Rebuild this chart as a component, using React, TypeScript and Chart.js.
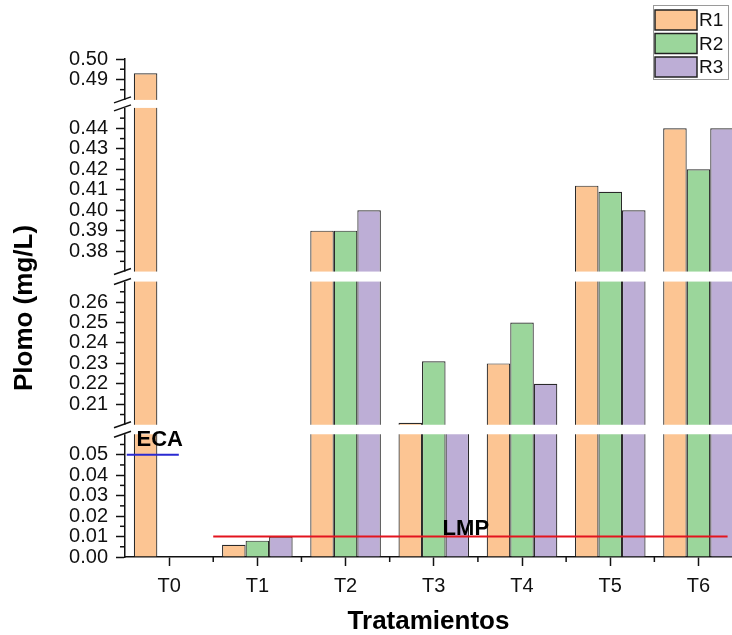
import React, { useEffect, useRef } from 'react';
import { Chart, registerables, LinearScale } from 'chart.js';

// ---------------- data ----------------
const categories = ['T0', 'T1', 'T2', 'T3', 'T4', 'T5', 'T6'];
const seriesLabels = ['R1', 'R2', 'R3'];
const r1Values = [0.493, 0.006, 0.39, 0.201, 0.23, 0.412, 0.44];
const r2Values = [null, 0.008, 0.39, 0.231, 0.25, 0.409, 0.42];
const r3Values = [null, 0.01, 0.4, 0.15, 0.22, 0.4, 0.44];

// broken y axis ranges (bottom to top)
const yBreakSegments = [
  [0.0, 0.06],
  [0.2, 0.27],
  [0.37, 0.45],
  [0.48, 0.5],
];
const yTickValues = [
  0.0, 0.01, 0.02, 0.03, 0.04, 0.05,
  0.21, 0.22, 0.23, 0.24, 0.25, 0.26,
  0.38, 0.39, 0.4, 0.41, 0.42, 0.43, 0.44,
  0.49, 0.5,
];
const yMinorTickValues = [
  0.005, 0.015, 0.025, 0.035, 0.045, 0.055,
  0.205, 0.215, 0.225, 0.235, 0.245, 0.255, 0.265,
  0.375, 0.385, 0.395, 0.405, 0.415, 0.425, 0.435, 0.445,
  0.485, 0.495,
];
const xTickValues = [0, 1, 2, 3, 4, 5, 6];
const xMinorTickValues = [0.5, 1.5, 2.5, 3.5, 4.5, 5.5];

// reference lines
const ecaLineX = [-0.48, 0.11];
const ecaLineY = [0.05, 0.05];
const lmpLineX = [0.5, 6.33];
const lmpLineY = [0.01, 0.01];
const ecaLabel = { text: 'ECA', x: -0.37, y: 0.05 };
const lmpLabel = { text: 'LMP', x: 3.1, y: 0.01 };

// ---------------- style ----------------
const FONT = "'Liberation Sans', Arial, sans-serif";
const AXIS = '#111111';
const BAR_COLORS = ['#FCC593', '#9BD69B', '#BDAED6'];
const BAR_BORDER = '#2a2a2a';
const GAP_PX = [9.5, 10, 8];

class BrokenLinearScale extends LinearScale {
  static id = 'brokenLinear';
  static defaults = LinearScale.defaults;

  _unitPx() {
    let total = 0;
    for (const [a, b] of yBreakSegments) total += b - a;
    let gaps = 0;
    for (const g of GAP_PX) gaps += g;
    return (this.bottom - this.top - gaps) / total;
  }

  getPixelForValue(value) {
    if (value === null || value === undefined || isNaN(value)) return NaN;
    const unit = this._unitPx();
    let base = this.bottom;
    for (let i = 0; i < yBreakSegments.length; i++) {
      const [a, b] = yBreakSegments[i];
      if (i > 0) {
        const pb = yBreakSegments[i - 1][1];
        const g = GAP_PX[i - 1];
        if (value < a) return base - ((value - pb) / (a - pb)) * g;
        base -= g;
      }
      if (value <= b || i === yBreakSegments.length - 1) return base - (value - a) * unit;
      base -= (b - a) * unit;
    }
    return base;
  }

  getValueForPixel(pixel) {
    const unit = this._unitPx();
    let base = this.bottom;
    for (let i = 0; i < yBreakSegments.length; i++) {
      const [a, b] = yBreakSegments[i];
      if (i > 0) {
        const pb = yBreakSegments[i - 1][1];
        const g = GAP_PX[i - 1];
        if (pixel > base - g) return pb + ((base - pixel) / g) * (a - pb);
        base -= g;
      }
      const top = base - (b - a) * unit;
      if (pixel >= top || i === yBreakSegments.length - 1) return a + (base - pixel) / unit;
      base = top;
    }
    return 0;
  }

  buildTicks() {
    return yTickValues.map((v) => ({ value: v }));
  }
}

Chart.register(...registerables, BrokenLinearScale);

function line(ctx, x1, y1, x2, y2) {
  ctx.beginPath();
  ctx.moveTo(x1, y1);
  ctx.lineTo(x2, y2);
  ctx.stroke();
}

const decorPlugin = {
  id: 'decor',
  afterDraw(chart) {
    const { ctx, chartArea } = chart;
    const xs = chart.scales.x;
    const ys = chart.scales.y;
    ctx.save();
    ctx.strokeStyle = AXIS;
    ctx.lineWidth = 1.5;
    // minor ticks
    for (const v of yMinorTickValues) {
      const p = ys.getPixelForValue(v);
      line(ctx, chartArea.left - 5, p, chartArea.left, p);
    }
    for (const v of xMinorTickValues) {
      const p = xs.getPixelForValue(v);
      line(ctx, p, chartArea.bottom, p, chartArea.bottom + 5);
    }
    // axis breaks
    for (let i = 0; i < yBreakSegments.length - 1; i++) {
      const yLow = ys.getPixelForValue(yBreakSegments[i][1]);
      const yHigh = ys.getPixelForValue(yBreakSegments[i + 1][0]);
      ctx.fillStyle = '#ffffff';
      ctx.fillRect(chartArea.left - 3, yHigh, chartArea.right - chartArea.left + 3, yLow - yHigh);
      for (const p of [yLow, yHigh]) {
        line(ctx, chartArea.left - 11, p + 3, chartArea.left + 6, p - 3);
      }
    }
    // labels of reference lines
    ctx.fillStyle = '#000000';
    ctx.font = `bold 22px ${FONT}`;
    ctx.textAlign = 'left';
    ctx.textBaseline = 'alphabetic';
    ctx.fillText(ecaLabel.text, xs.getPixelForValue(ecaLabel.x), ys.getPixelForValue(ecaLabel.y) - 9);
    ctx.fillText(lmpLabel.text, xs.getPixelForValue(lmpLabel.x), ys.getPixelForValue(lmpLabel.y) - 2);

    // legend
    const bx = chart.width - 79;
    const by = 5;
    ctx.strokeStyle = '#9a9a9a';
    ctx.lineWidth = 1;
    ctx.strokeRect(bx + 0.5, by + 0.5, 75, 74);
    ctx.font = `19px ${FONT}`;
    ctx.textBaseline = 'middle';
    const bars = chart.data.datasets.filter((d) => d.type === 'bar');
    bars.forEach((d, i) => {
      const sy = by + 5 + i * 23.5;
      ctx.fillStyle = d.backgroundColor;
      ctx.fillRect(bx + 2, sy, 42, 20);
      ctx.strokeStyle = '#222222';
      ctx.lineWidth = 1.5;
      ctx.strokeRect(bx + 2, sy, 42, 20);
      ctx.fillStyle = '#111111';
      ctx.fillText(d.label, bx + 46, sy + 11);
    });
    ctx.restore();
  },
};

export default function App() {
  const ref = useRef(null);
  useEffect(() => {
    document.body.style.margin = '0';
    const seriesValues = [r1Values, r2Values, r3Values];
    const barSets = seriesLabels.map((lab, s) => ({
      type: 'bar',
      label: lab,
      data: categories.map((_, i) => ({ x: i, y: seriesValues[s][i] })),
      backgroundColor: BAR_COLORS[s],
      borderColor: BAR_BORDER,
      borderWidth: 1.2,
      categoryPercentage: 0.8,
      barPercentage: 1.0,
      order: 1,
    }));
    const lineSets = [
      {
        type: 'line',
        label: 'ECA',
        data: ecaLineX.map((x, i) => ({ x, y: ecaLineY[i] })),
        borderColor: '#2a2ad2',
        borderWidth: 2,
        pointRadius: 0,
        order: 0,
      },
      {
        type: 'line',
        label: 'LMP',
        data: lmpLineX.map((x, i) => ({ x, y: lmpLineY[i] })),
        borderColor: '#e3141e',
        borderWidth: 2,
        pointRadius: 0,
        order: 0,
      },
    ];
    const chart = new Chart(ref.current, {
      type: 'bar',
      data: { datasets: [...barSets, ...lineSets] },
      plugins: [decorPlugin],
      options: {
        animation: false,
        responsive: false,
        layout: { padding: { top: 59, right: 0, bottom: 0, left: 0 } },
        plugins: { legend: { display: false }, tooltip: { enabled: false } },
        scales: {
          x: {
            type: 'linear',
            min: -0.5,
            max: 6.38,
            offset: false,
            afterBuildTicks: (s) => {
              s.ticks = xTickValues.map((v) => ({ value: v }));
            },
            afterFit: (s) => {
              s.height = 78;
            },
            grid: {
              offset: false,
              drawOnChartArea: false,
              drawTicks: true,
              tickLength: 9,
              tickWidth: 1.5,
              tickColor: AXIS,
            },
            border: { display: true, color: AXIS, width: 1.5 },
            ticks: {
              autoSkip: false,
              maxRotation: 0,
              padding: 8,
              color: AXIS,
              font: { family: FONT, size: 20 },
              callback: (v) => categories[Math.round(Number(v))],
            },
            title: {
              display: true,
              text: 'Tratamientos',
              color: '#000',
              font: { family: FONT, size: 26, weight: 'bold', lineHeight: 1 },
              padding: { top: 0, bottom: 0 },
            },
          },
          y: {
            type: 'brokenLinear',
            min: 0,
            max: 0.5,
            stacked: false,
            afterFit: (s) => {
              s.width = 125;
            },
            grid: {
              drawOnChartArea: false,
              drawTicks: true,
              tickLength: 9,
              tickWidth: 1.5,
              tickColor: AXIS,
            },
            border: { display: true, color: AXIS, width: 1.5 },
            ticks: {
              autoSkip: false,
              padding: 8,
              color: AXIS,
              font: { family: FONT, size: 20 },
              callback: (v) => Number(v).toFixed(2),
            },
            title: {
              display: true,
              text: 'Plomo (mg/L)',
              color: '#000',
              font: { family: FONT, size: 26, weight: 'bold', lineHeight: 1 },
              padding: { top: 12, bottom: 0 },
            },
          },
        },
      },
    });
    return () => chart.destroy();
  }, []);
  return <canvas ref={ref} width={732} height={635} style={{ display: 'block' }} />;
}
